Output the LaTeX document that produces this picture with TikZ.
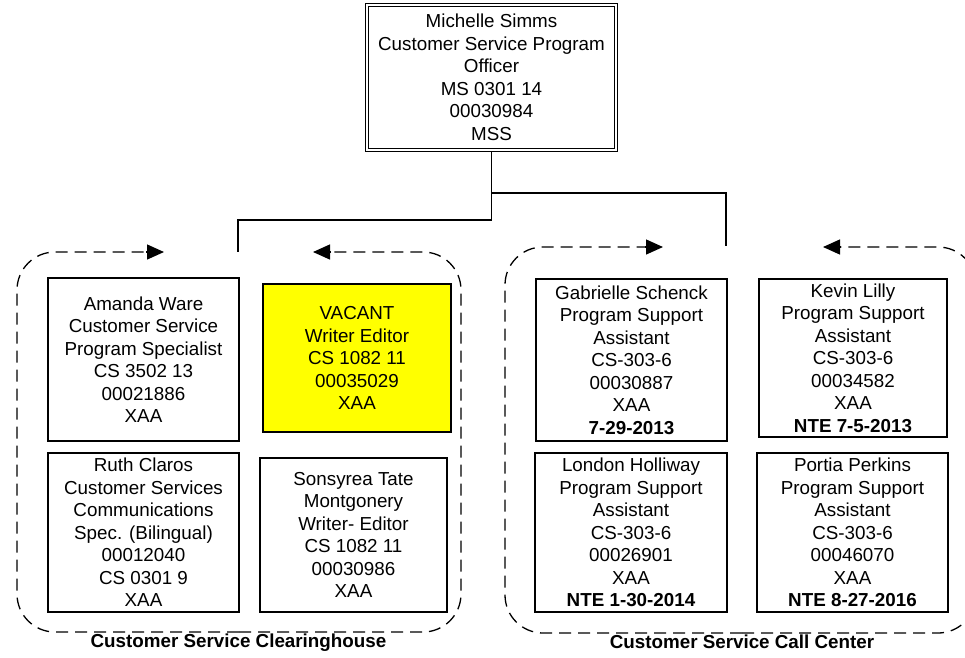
\documentclass[tikz,border=0pt]{standalone}
\usepackage{fontspec}
\setmainfont{Liberation Sans}
\usetikzlibrary{arrows.meta}
\begin{document}
\begin{tikzpicture}[x=1pt,y=-1pt,
  card/.style={draw=black,line width=1.4pt,inner sep=0pt,align=center,
    font=\fontsize{18.8}{22.5}\selectfont},
  grp/.style={draw=black,line width=1.3pt,dash pattern=on 12pt off 7pt,rounded corners=38pt},
  tip/.style={draw=black,line width=1.3pt,-{Triangle[length=17pt,width=15pt]}},
  conn/.style={draw=black,line width=1.4pt},
  grplabel/.style={font=\fontsize{18.8}{22.5}\selectfont\bfseries,inner sep=0pt}]
\useasboundingbox (0,0) rectangle (965,657);
\clip (0,0) rectangle (965,657);
% top box
\node[card,line width=1.1pt,minimum width=252pt,minimum height=148pt] (top) at (491.5,77.5)
  {Michelle Simms\\Customer Service Program\\Officer\\MS 0301 14\\00030984\\MSS};
\draw[line width=1.1pt] ([shift={(3.5pt,-3.5pt)}]top.north west) rectangle ([shift={(-3.5pt,3.5pt)}]top.south east);
% left group
\node[card,minimum width=191pt,minimum height=163pt] (amanda) at (143.5,359.5)
  {Amanda Ware\\Customer Service\\Program Specialist\\CS 3502 13\\00021886\\XAA};
\node[card,fill={rgb,255:red,255;green,255;blue,0},minimum width=188pt,minimum height=148pt] (vacant) at (357,358)
  {VACANT\\Writer Editor\\CS 1082 11\\00035029\\XAA};
\node[card,minimum width=191pt,minimum height=159pt] (ruth) at (143.5,532.5)
  {Ruth Claros\\Customer Services\\Communications\\Spec. (Bilingual)\\00012040\\CS 0301 9\\XAA};
\node[card,minimum width=187pt,minimum height=154pt] (sonsyrea) at (353.5,535)
  {Sonsyrea Tate\\Montgonery\\Writer- Editor\\CS 1082 11\\00030986\\XAA};
% right group
\node[card,minimum width=191pt,minimum height=162pt] (gabrielle) at (631.5,360)
  {Gabrielle Schenck\\Program Support\\Assistant\\CS-303-6\\00030887\\XAA\\\textbf{7-29-2013}};
\node[card,minimum width=188pt,minimum height=158pt] (kevin) at (853,358)
  {Kevin Lilly\\Program Support\\Assistant\\CS-303-6\\00034582\\XAA\\\textbf{NTE 7-5-2013}};
\node[card,minimum width=192pt,minimum height=159pt] (london) at (631,532.5)
  {London Holliway\\Program Support\\Assistant\\CS-303-6\\00026901\\XAA\\\textbf{NTE 1-30-2014}};
\node[card,minimum width=191pt,minimum height=159pt] (portia) at (852.5,532.5)
  {Portia Perkins\\Program Support\\Assistant\\CS-303-6\\00046070\\XAA\\\textbf{NTE 8-27-2016}};
% group labels
\node[grplabel] (lab1) at (238.5,643) {Customer Service Clearinghouse};
\node[grplabel] (lab2) at (742,642) {Customer Service Call Center};
% connectors
\coordinate (j1) at (491.5,193);
\coordinate (j2) at (491.5,220);
\coordinate (lt) at (238,252);
\coordinate (rt) at (726,246);
\draw[conn] (top.south) -- (j2) -| (lt);
\draw[conn] (j1) -| (rt);
% dashed group outlines
\coordinate (lb) at (239,632);
\coordinate (lbl) at (17,632);
\coordinate (ltl) at (17,252);
\coordinate (la1) at (164,252);
\coordinate (la1s) at (146,252);
\coordinate (lbr) at (461,632);
\coordinate (ltr) at (461,252);
\coordinate (la2) at (313,252);
\coordinate (la2s) at (331,252);
\draw[grp] (lb) -- (lbl) -- (ltl) -- (la1s);
\draw[grp] (lb) -- (lbr) -- (ltr) -- (la2s);
\draw[tip] (la1s) -- (la1);
\draw[tip] (la2s) -- (la2);
\coordinate (rb) at (742,633);
\coordinate (rbl) at (505,633);
\coordinate (rtl) at (505,247);
\coordinate (ra1) at (663,247);
\coordinate (ra1s) at (645,247);
\coordinate (rbr) at (976,633);
\coordinate (rtr) at (976,247);
\coordinate (ra2) at (823,247);
\coordinate (ra2s) at (841,247);
\draw[grp] (rb) -- (rbl) -- (rtl) -- (ra1s);
\draw[grp] (rb) -- (rbr) -- (rtr) -- (ra2s);
\draw[tip] (ra1s) -- (ra1);
\draw[tip] (ra2s) -- (ra2);
\end{tikzpicture}
\end{document}
